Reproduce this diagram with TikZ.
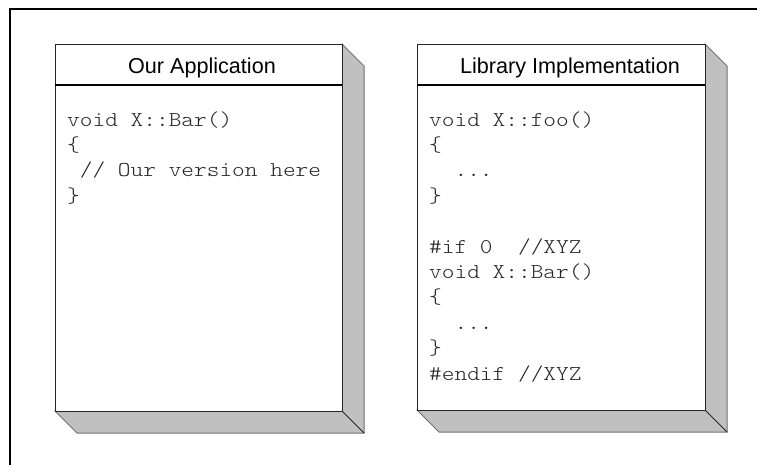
\documentclass[tikz,border=0pt]{standalone}
\usepackage{fontspec}
\setmainfont{Liberation Sans}
\setmonofont{Latin Modern Mono Light}[FakeStretch=1.146]
\usetikzlibrary{backgrounds}
\definecolor{shadowgray}{HTML}{C0C0C0}
\definecolor{edgegray}{HTML}{707070}
\begin{document}
\begin{tikzpicture}[x=1pt,y=-1pt,
  frontbox/.style={draw=black!85, line width=1pt, fill=white, inner sep=0pt, outer sep=0pt, anchor=north west},
  shadowface/.style={fill=shadowgray, draw=edgegray, line width=1pt, line join=miter},
  divider/.style={draw=black, line width=1.1pt},
  diag/.style={draw=black!85, line width=0.9pt},
  titletext/.style={font=\fontsize{21.6}{24}\selectfont, anchor=base, inner sep=0pt},
  codetext/.style={font=\ttfamily\fontsize{21.1}{25.4}\selectfont, anchor=base west, inner sep=0pt, text=black!85},
  framelines/.style={draw=black, line width=2pt}]
\useasboundingbox (0,0) rectangle (757,464);
\draw[framelines] (10,465) -- (10,9) -- (758,9);

% Box 1
\node[frontbox, minimum width=287pt, minimum height=367pt] (A) at (55,44) {};
% Box 2
\node[frontbox, minimum width=288pt, minimum height=366pt] (B) at (417,44) {};

\begin{scope}[on background layer]
  \foreach \b in {A,B}{
    \filldraw[shadowface] (\b.north east) -- ([shift={(22pt,-22pt)}]\b.north east)
      -- ([shift={(22pt,-22pt)}]\b.south east) -- ([shift={(22pt,-22pt)}]\b.south west)
      -- (\b.south west) -- cycle;
  }
\end{scope}
\draw[diag] (A.south east) -- ([shift={(22pt,-22pt)}]A.south east);
\draw[diag] (B.south east) -- ([shift={(22pt,-22pt)}]B.south east);
\draw[divider] ([yshift=-41pt]A.north west) -- ([yshift=-41pt]A.north east);
\draw[divider] ([yshift=-41pt]B.north west) -- ([yshift=-41pt]B.north east);

% Titles
\node[titletext] (At) at (202,73) {Our Application};
\node[titletext] (Bt) at (570,73) {Library Implementation};

% Code in box 1
\node[codetext] (a1) at (67,126.0) {void X::Bar()};
\node[codetext] (a2) at (67,151.4) {\{};
\node[codetext] (a3) at (67,176.8) {\hspace*{12.7pt}// Our version here};
\node[codetext] (a4) at (67,202.2) {\}};

% Code in box 2
\node[codetext] (b1) at (429,126.0) {void X::foo()};
\node[codetext] (b2) at (429,151.4) {\{};
\node[codetext] (b3) at (429,176.8) {\hspace*{25.4pt}...};
\node[codetext] (b4) at (429,202.2) {\}};
\node[codetext] (b6) at (429,253.0) {\#if 0\hspace*{25.4pt}//XYZ};
\node[codetext] (b7) at (429,278.4) {void X::Bar()};
\node[codetext] (b8) at (429,303.8) {\{};
\node[codetext] (b9) at (429,329.2) {\hspace*{25.4pt}...};
\node[codetext] (b10) at (429,354.6) {\}};
\node[codetext] (b11) at (429,380.0) {\#endif //XYZ};
\end{tikzpicture}
\end{document}
